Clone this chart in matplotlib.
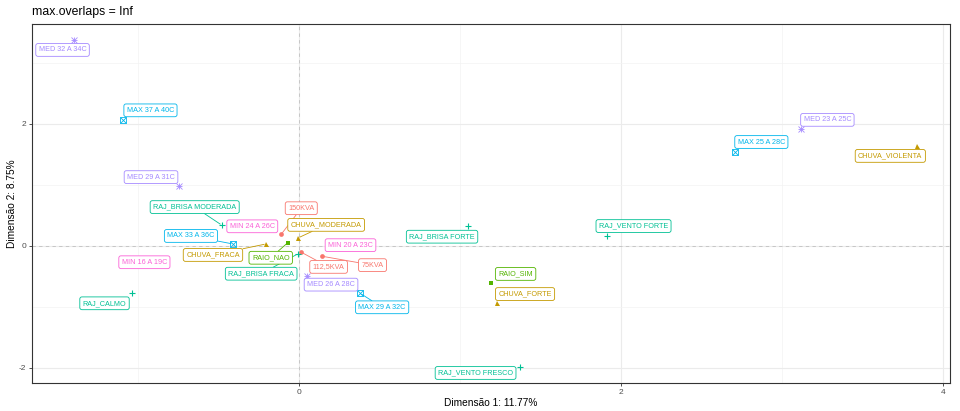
import matplotlib
matplotlib.use("Agg")
import matplotlib.pyplot as plt
import numpy as np

plt.rcParams['font.family'] = ['Liberation Sans', 'DejaVu Sans']

# ---------------- data ----------------
categories = ["150KVA", "112,5KVA", "75KVA",
              "CHUVA_FRACA", "CHUVA_MODERADA", "CHUVA_FORTE", "CHUVA_VIOLENTA",
              "RAIO_NAO", "RAIO_SIM",
              "RAJ_CALMO", "RAJ_BRISA FRACA", "RAJ_BRISA MODERADA", "RAJ_BRISA FORTE",
              "RAJ_VENTO FORTE", "RAJ_VENTO FRESCO",
              "MAX 37 A 40C", "MAX 33 A 36C", "MAX 29 A 32C", "MAX 25 A 28C",
              "MED 32 A 34C", "MED 29 A 31C", "MED 26 A 28C", "MED 23 A 25C",
              "MIN 24 A 26C", "MIN 20 A 23C", "MIN 16 A 19C"]
dim1 = [-0.11, 0.01, 0.14,
        -0.205, -0.005, 1.23, 3.84,
        -0.07, 1.19,
        -1.04, -0.005, -0.48, 1.05, 1.91, 1.37,
        -1.09, -0.41, 0.38, 2.71,
        -1.40, -0.745, 0.05, 3.12,
        -0.29, 0.32, -0.96]
dim2 = [0.19, -0.10, -0.17,
        0.03, 0.13, -0.94, 1.64,
        0.05, -0.61,
        -0.78, -0.13, 0.34, 0.33, 0.16, -1.99,
        2.06, 0.03, -0.78, 1.54,
        3.38, 0.98, -0.49, 1.92,
        0.32, 0.01, -0.27]
variable = ["POT"] * 3 + ["CHUVA"] * 4 + ["RAIO"] * 2 + ["RAJ"] * 6 + \
           ["MAX"] * 4 + ["MED"] * 4 + ["MIN"] * 3

x_title = "Dimensão 1: 11.77%"
y_title = "Dimensão 2: 8.75%"
plot_title = "max.overlaps = Inf"

# ---------------- styles / layout ----------------
colors = {"POT": "#F8766D", "CHUVA": "#C49A00", "RAIO": "#53B400", "RAJ": "#00C094",
          "MAX": "#00B6EB", "MED": "#A58AFF", "MIN": "#FB61D7"}
# label offsets (pixels, x right / y up) as placed by the label repel
label_offsets = [(20, 26), (28, -15), (51, -9),
                 (-53, -11), (28, 13), (28, 9), (-27, -10),
                 (-17, -15), (25, 9),
                 (-27, -10), (-37, -20), (-27, 18), (-26, -11), (27, 10), (-44, -6),
                 (27, 10), (-42, 8), (22, -14), (26, 10),
                 (-11, -10), (-28, 9), (24, -9), (26, 9),
                 (0, 0), (0, 0), (0, 0)]

W, H = 960, 411
fig = plt.figure(figsize=(W / 100, H / 100), dpi=100)
L, R, T, B = 32, 950, 24, 383
ax = fig.add_axes([L / W, 1 - B / H, (R - L) / W, (B - T) / H])
ax.set_xlim(-1.658, 4.043)
ax.set_ylim(-2.253, 3.642)

ax.set_xticks([0, 2, 4])
ax.set_yticks([-2, 0, 2])
ax.set_xticks([-1, 1, 3], minor=True)
ax.set_yticks([-1, 1, 3], minor=True)
ax.set_xticklabels(["0", "2", "4"])
ax.set_yticklabels(["-2", "0", "2"])
ax.grid(which='major', color='#EBEBEB', lw=0.8)
ax.grid(which='minor', color='#F3F3F3', lw=0.5)
ax.set_axisbelow(True)
ax.tick_params(which='minor', length=0)
ax.tick_params(which='major', length=2.5, width=0.6, color='#333333',
               labelsize=6, labelcolor='#4D4D4D', pad=1.5)
for s in ax.spines.values():
    s.set_color('#333333')
    s.set_linewidth(0.8)

ax.axhline(0, color='#C0C0C0', ls=(0, (4, 4)), lw=0.6, zorder=1)
ax.axvline(0, color='#C0C0C0', ls=(0, (4, 4)), lw=0.6, zorder=1)

# ---------------- points ----------------
for v in ["POT", "CHUVA", "RAIO", "RAJ", "MAX", "MED"]:
    idx = [i for i, g in enumerate(variable) if g == v]
    xs = [dim1[i] for i in idx]
    ys = [dim2[i] for i in idx]
    c = colors[v]
    if v == "POT":
        ax.plot(xs, ys, 'o', color=c, ms=3.4, mew=0, zorder=3)
    elif v == "CHUVA":
        ax.plot(xs, ys, '^', color=c, ms=3.6, mew=0, zorder=3)
    elif v == "RAIO":
        ax.plot(xs, ys, 's', color=c, ms=3.4, mew=0, zorder=3)
    elif v == "RAJ":
        ax.plot(xs, ys, '+', color=c, ms=5, mew=0.8, zorder=3)
    elif v == "MAX":
        ax.plot(xs, ys, 's', mfc='none', mec=c, ms=3.8, mew=0.6, zorder=3)
        ax.plot(xs, ys, 'x', color=c, ms=3.8, mew=0.6, zorder=3)
    elif v == "MED":
        ax.plot(xs, ys, '+', color=c, ms=4.8, mew=0.6, zorder=3)
        ax.plot(xs, ys, 'x', color=c, ms=3.8, mew=0.6, zorder=3)

# ---------------- labels ----------------
anns = []
for i, lab in enumerate(categories):
    c = colors[variable[i]]
    dx, dy = label_offsets[i]
    a = ax.annotate(lab, (dim1[i], dim2[i]), xytext=(dx, dy), textcoords='offset pixels',
                    ha='center', va='center', fontsize=5.2, color=c, zorder=6,
                    bbox=dict(boxstyle='round,pad=0.4,rounding_size=0.3', fc='white',
                              ec=c, lw=0.6))
    anns.append(a)

fig.canvas.draw()
renderer = fig.canvas.get_renderer()
inv = ax.transData.inverted()
for i, a in enumerate(anns):
    if variable[i] == "MIN":
        continue
    bb = a.get_bbox_patch().get_window_extent(renderer)
    px, py = ax.transData.transform((dim1[i], dim2[i]))
    gx = max(bb.x0 - px, 0, px - bb.x1)
    gy = max(bb.y0 - py, 0, py - bb.y1)
    if np.hypot(gx, gy) < 6:
        continue
    cx, cy = (bb.x0 + bb.x1) / 2, (bb.y0 + bb.y1) / 2
    ddx, ddy = px - cx, py - cy
    hw, hh = bb.width / 2, bb.height / 2
    t = min(hw / abs(ddx) if ddx else np.inf, hh / abs(ddy) if ddy else np.inf)
    ex, ey = cx + t * ddx, cy + t * ddy
    seglen = np.hypot(px - ex, py - ey)
    sh = 1.5 / seglen
    qx, qy = px - (px - ex) * sh, py - (py - ey) * sh
    p1 = inv.transform((ex, ey))
    p2 = inv.transform((qx, qy))
    ax.plot([p1[0], p2[0]], [p1[1], p2[1]], color=colors[variable[i]], lw=0.6,
            zorder=4, solid_capstyle='butt')

# ---------------- titles ----------------
fig.text(L / W, 1 - 12.5 / H, plot_title, fontsize=8.8, ha='left', va='center', color='black')
fig.text((L + R) / 2 / W, 1 - 403 / H, x_title, fontsize=7.3, ha='center', va='center', color='black')
fig.text(12.5 / W, 1 - ((T + B) / 2) / H, y_title, fontsize=7.3, ha='center', va='center',
         rotation=90, color='black')

fig.savefig("out.png", dpi=100)
